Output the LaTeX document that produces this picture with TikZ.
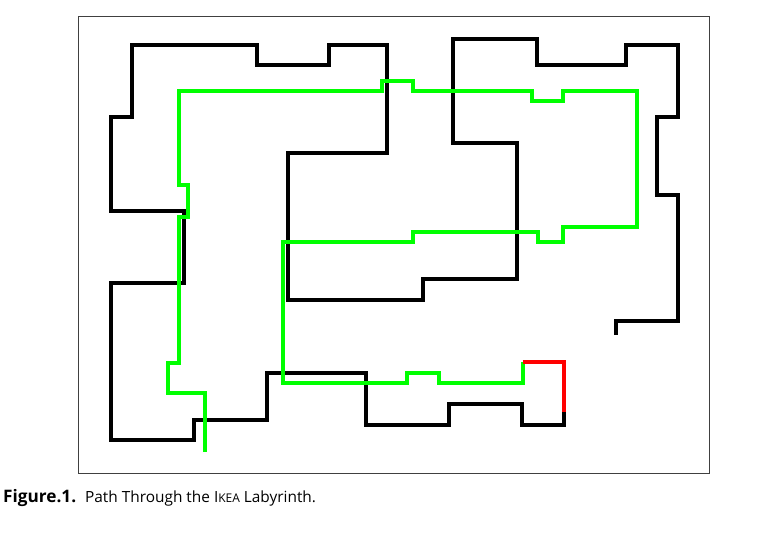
\documentclass[tikz,border=0pt]{standalone}
\usepackage{fontspec}
\setmainfont{Open Sans}
\definecolor{routegreen}{RGB}{0,255,0}
\begin{document}
\begin{tikzpicture}[x=1pt,y=-1pt,
  wall/.style={line width=4.5pt,black,line join=miter,line cap=rect},
  route/.style={line width=4.5pt,routegreen,line join=miter},
  tail/.style={line width=4.5pt,red,line join=miter},
  frame/.style={draw=black!75,line width=0.9pt}]
\useasboundingbox (0,0) rectangle (762,534);
\draw[frame] (78,16) rectangle (709,473);
% walls
\draw[wall] (564,412) -- (564,425) -- (522,425) -- (522,404) -- (449,404) -- (449,425) -- (366,425) -- (366,373) -- (267,373) -- (267,420) -- (194,420) -- (194,440) -- (111,440) -- (111,283) -- (184,283) -- (184,211) -- (111,211) -- (111,117) -- (132,117) -- (132,45) -- (257,45) -- (257,65) -- (329,65) -- (329,45) -- (387,45) -- (387,153) -- (288,153) -- (288,300) -- (423,300) -- (423,279) -- (517,279) -- (517,143) -- (453,143) -- (453,39) -- (537,39) -- (537,65) -- (626,65) -- (626,45) -- (678,45) -- (678,117) -- (657,117) -- (657,195) -- (678,195) -- (678,321) -- (616,321) -- (616,333);
% path
\coordinate (start) at (205,452);
\coordinate (finish) at (523,362);
\draw[route] (start) -- (205,393) -- (168,393) -- (168,363) -- (179,363) -- (179,217) -- (188,217) -- (188,185) -- (179,185) -- (179,91) -- (382,91) -- (382,81) -- (413,81) -- (413,91) -- (532,91) -- (532,101) -- (563,101) -- (563,91) -- (637,91) -- (637,227) -- (563,227) -- (563,242) -- (538,242) -- (538,232) -- (413,232) -- (413,242) -- (283,242) -- (283,383) -- (407,383) -- (407,373) -- (439,373) -- (439,383) -- (523,383) -- (finish);
\draw[tail] (finish) -- (564,362) -- (564,412);
\node[anchor=base west,inner sep=0pt,font=\fontsize{15.4}{18}\selectfont] (caption) at (3,502)
  {{\fontsize{17.2}{19}\selectfont\bfseries Figure.1.}\hspace{9pt}Path Through the I{\fontsize{12}{14}\selectfont KEA} Labyrinth.};
\end{tikzpicture}
\end{document}
